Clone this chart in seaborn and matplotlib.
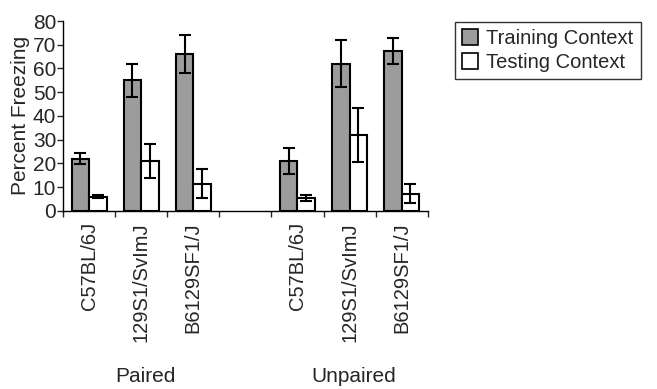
import numpy as np
import pandas as pd
import seaborn as sns
import matplotlib.pyplot as plt
from matplotlib.patches import Patch

# values
strains = ["C57BL/6J", "129S1/SvImJ", "B6129SF1/J"]
groups = ["Paired", "Unpaired"]
contexts = ["Training Context", "Testing Context"]

paired_training = [22, 55, 66]
paired_training_err = [2.2, 7, 8]
paired_testing = [6, 21, 11.5]
paired_testing_err = [0.5, 7, 6]
unpaired_training = [21, 62, 67.5]
unpaired_training_err = [5.5, 10, 5.5]
unpaired_testing = [5.5, 32, 7.3]
unpaired_testing_err = [1.3, 11.5, 4]

rows = []
series = {
    ("Paired", "Training Context"): (paired_training, paired_training_err),
    ("Paired", "Testing Context"): (paired_testing, paired_testing_err),
    ("Unpaired", "Training Context"): (unpaired_training, unpaired_training_err),
    ("Unpaired", "Testing Context"): (unpaired_testing, unpaired_testing_err),
}
for (grp, ctx), (vals, errs) in series.items():
    for s, v, e in zip(strains, vals, errs):
        rows.append({"slot": f"{grp} {s}", "context": ctx, "freezing": v, "err": e})
df = pd.DataFrame(rows)

# an empty slot separates the two groups
order = [f"Paired {s}" for s in strains] + [" "] + [f"Unpaired {s}" for s in strains]
tick_text = strains + [""] + strains

sns.set_style("white")
plt.rcParams["font.family"] = ["Liberation Sans", "DejaVu Sans"]

fig = plt.figure(figsize=(6.57, 3.89), dpi=100)
ax = fig.add_axes([0.096, 0.458, 0.555, 0.488])

palette = {"Training Context": "#9c9c9c", "Testing Context": "white"}
sns.barplot(data=df, x="slot", y="freezing", hue="context", order=order,
            hue_order=contexts, palette=palette, width=0.67, errorbar=None,
            edgecolor="black", linewidth=1.5, legend=False, ax=ax)

# error bars at the bar tops
err_lookup = {(r.slot, r.context): r.err for r in df.itertuples()}
for ctx, cont in zip(contexts, ax.containers):
    for bar in cont:
        h = bar.get_height()
        if np.isnan(h):
            continue
        xc = bar.get_x() + bar.get_width() / 2
        slot = order[int(round(xc))]
        ax.errorbar(xc, h, yerr=err_lookup[(slot, ctx)], color="black",
                    capsize=4, elinewidth=1.5, capthick=1.5, zorder=5)

ax.set_xlim(-0.5, 6.5)
ax.set_ylim(0, 80)
ax.set_yticks(range(0, 81, 10))
ax.tick_params(axis="y", labelsize=15, length=4, width=1, direction="out", left=True, pad=1)

# ticks at slot boundaries, labels at slot centres
ax.set_xticks(np.arange(-0.5, 7, 1))
ax.set_xticklabels([])
ax.set_xticks(range(7), minor=True)
ax.set_xticklabels(tick_text, minor=True, rotation=90, fontsize=14.5)
ax.tick_params(axis="x", which="major", length=4, width=1, direction="out", bottom=True)
ax.tick_params(axis="x", which="minor", length=0, pad=8)

ax.set_xlabel("")
ax.set_ylabel("Percent Freezing", fontsize=15, labelpad=2)
for side in ["top", "right"]:
    ax.spines[side].set_visible(False)
for side in ["left", "bottom"]:
    ax.spines[side].set_color("black")
    ax.spines[side].set_linewidth(1)

fig.text(145 / 657, 1 - 376 / 389, "Paired", fontsize=15, ha="center", va="center")
fig.text(354 / 657, 1 - 376 / 389, "Unpaired", fontsize=15, ha="center", va="center")

handles = [Patch(facecolor=palette[c], edgecolor="black", linewidth=1.2, label=c) for c in contexts]
leg = fig.legend(handles=handles, loc="upper left", bbox_to_anchor=(455 / 657, 1 - 22 / 389),
                 fontsize=14.5, frameon=True, fancybox=False, edgecolor="black",
                 handlelength=0.8, handleheight=0.8, handletextpad=0.4,
                 borderpad=0.35, labelspacing=0.25, borderaxespad=0)
leg.get_frame().set_linewidth(1)

fig.savefig("out.png", dpi=100)
